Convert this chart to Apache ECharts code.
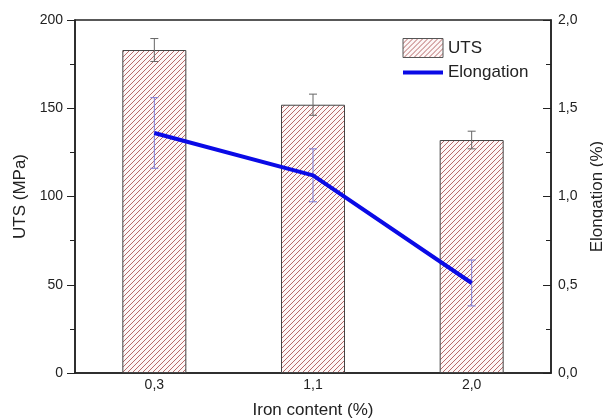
<!DOCTYPE html>
<html lang="en">
<head>
    <meta charset="UTF-8">
    <script type="text/javascript" src="https://cdn.jsdelivr.net/npm/echarts@6/dist/echarts.min.js"></script>
    <style>
        body { margin: 0; background: #fff; }
        #chart { width: 603px; height: 420px; }
    </style>
</head>
<body>
    <div id="chart"></div>
</body>
<script>
    // data
    var ironContent = ['0,3', '1,1', '2,0'];
    var uts = [183, 152, 132];
    var utsErr = [6.5, 6, 5];
    var elongation = [1.36, 1.12, 0.51];
    var elongationErr = [0.2, 0.15, 0.13];
    var utsTicks = [0, 50, 100, 150, 200];
    var elongTicks = [0, 0.5, 1.0, 1.5, 2.0];

    var font = 'Liberation Sans, Arial, sans-serif';

    // hatch fill for the bars
    function hatch() {
        var c = document.createElement('canvas');
        c.width = 5; c.height = 5;
        var ctx = c.getContext('2d');
        ctx.fillStyle = '#fdf7f7';
        ctx.fillRect(0, 0, 5, 5);
        ctx.strokeStyle = '#b86a6a';
        ctx.lineWidth = 1;
        ctx.beginPath();
        ctx.moveTo(-1, 6); ctx.lineTo(6, -1);
        ctx.moveTo(-1, 1); ctx.lineTo(1, -1);
        ctx.moveTo(4, 6); ctx.lineTo(6, 4);
        ctx.stroke();
        return c;
    }
    var hatchFill = { image: hatch(), repeat: 'repeat' };

    function errorBars(values, errs, color) {
        return function (params, api) {
            var i = params.dataIndex;
            var hi = api.coord([i, values[i] + errs[i]]);
            var lo = api.coord([i, values[i] - errs[i]]);
            var w = 4;
            var st = { stroke: color, lineWidth: 1 };
            return {
                type: 'group',
                children: [
                    { type: 'line', shape: { x1: hi[0], y1: hi[1], x2: lo[0], y2: lo[1] }, style: st },
                    { type: 'line', shape: { x1: hi[0] - w, y1: hi[1], x2: hi[0] + w, y2: hi[1] }, style: st },
                    { type: 'line', shape: { x1: lo[0] - w, y1: lo[1], x2: lo[0] + w, y2: lo[1] }, style: st }
                ]
            };
        };
    }

    var chart = echarts.init(document.getElementById('chart'));

    var option = {
        backgroundColor: '#fff',
        animation: false,
        textStyle: { fontFamily: font },
        grid: {
            left: 75, right: 52, top: 20, bottom: 47,
            outerBoundsMode: 'none',
            containLabel: false,
            show: true, borderColor: '#222', borderWidth: 1.5
        },
        legend: {
            orient: 'vertical',
            left: 396, top: 33,
            itemWidth: 40, itemHeight: 19, itemGap: 6,
            textStyle: { fontSize: 17, color: '#222', fontFamily: font },
            data: [
                { name: 'UTS', icon: 'rect', itemStyle: { color: hatchFill, borderColor: '#555', borderWidth: 1 } },
                { name: 'Elongation', itemStyle: { color: 'rgba(0,0,0,0)', borderWidth: 0 }, lineStyle: { width: 4 } }
            ]
        },
        xAxis: {
            type: 'category',
            data: ironContent,
            name: 'Iron content (%)',
            nameLocation: 'middle',
            nameGap: 29,
            nameTextStyle: { fontSize: 17, color: '#222' },
            axisLine: { lineStyle: { color: '#222', width: 1.5 } },
            axisTick: { show: false },
            axisLabel: { fontSize: 14, color: '#222', margin: 5 }
        },
        yAxis: [{
            type: 'value',
            min: 0, max: 200, interval: 50,
            name: 'UTS (MPa)',
            nameLocation: 'middle',
            nameGap: 40,
            nameTextStyle: { fontSize: 17, color: '#222' },
            axisLine: { show: true, lineStyle: { color: '#222', width: 1.5 } },
            axisTick: { show: true, length: 8, lineStyle: { color: '#222' } },
            minorTick: { show: true, splitNumber: 2, length: 5, lineStyle: { color: '#222' } },
            splitLine: { show: false },
            axisLabel: {
                fontSize: 14, color: '#222', margin: 12,
                formatter: function (v) { return utsTicks.indexOf(v) >= 0 ? String(v) : ''; }
            }
        }, {
            type: 'value',
            min: 0, max: 2, interval: 0.5,
            name: 'Elongation (%)',
            nameLocation: 'middle',
            nameGap: 34,
            nameTextStyle: { fontSize: 17, color: '#222' },
            axisLine: { show: true, lineStyle: { color: '#222', width: 1.5 } },
            axisTick: { show: true, inside: true, length: 8, lineStyle: { color: '#222' } },
            minorTick: { show: true, splitNumber: 2, length: 5, lineStyle: { color: '#222' } },
            splitLine: { show: false },
            axisLabel: {
                fontSize: 14, color: '#222', margin: 7,
                formatter: function (v) {
                    return elongTicks.indexOf(v) >= 0 ? v.toFixed(1).replace('.', ',') : '';
                }
            }
        }],
        series: [{
            name: 'UTS',
            type: 'bar',
            yAxisIndex: 0,
            barWidth: 64,
            data: uts,
            itemStyle: { color: hatchFill, borderColor: '#444', borderWidth: 1 }
        }, {
            type: 'custom',
            yAxisIndex: 0,
            data: uts,
            renderItem: errorBars(uts, utsErr, '#666'),
            z: 5
        }, {
            type: 'custom',
            yAxisIndex: 1,
            data: elongation,
            renderItem: errorBars(elongation, elongationErr, '#7b7bd6'),
            z: 5
        }, {
            name: 'Elongation',
            type: 'line',
            yAxisIndex: 1,
            data: elongation,
            symbol: 'none',
            lineStyle: { color: '#0a0ae6', width: 4 },
            itemStyle: { color: '#0a0ae6' },
            z: 6
        }]
    };

    chart.setOption(option);
</script>
</html>
